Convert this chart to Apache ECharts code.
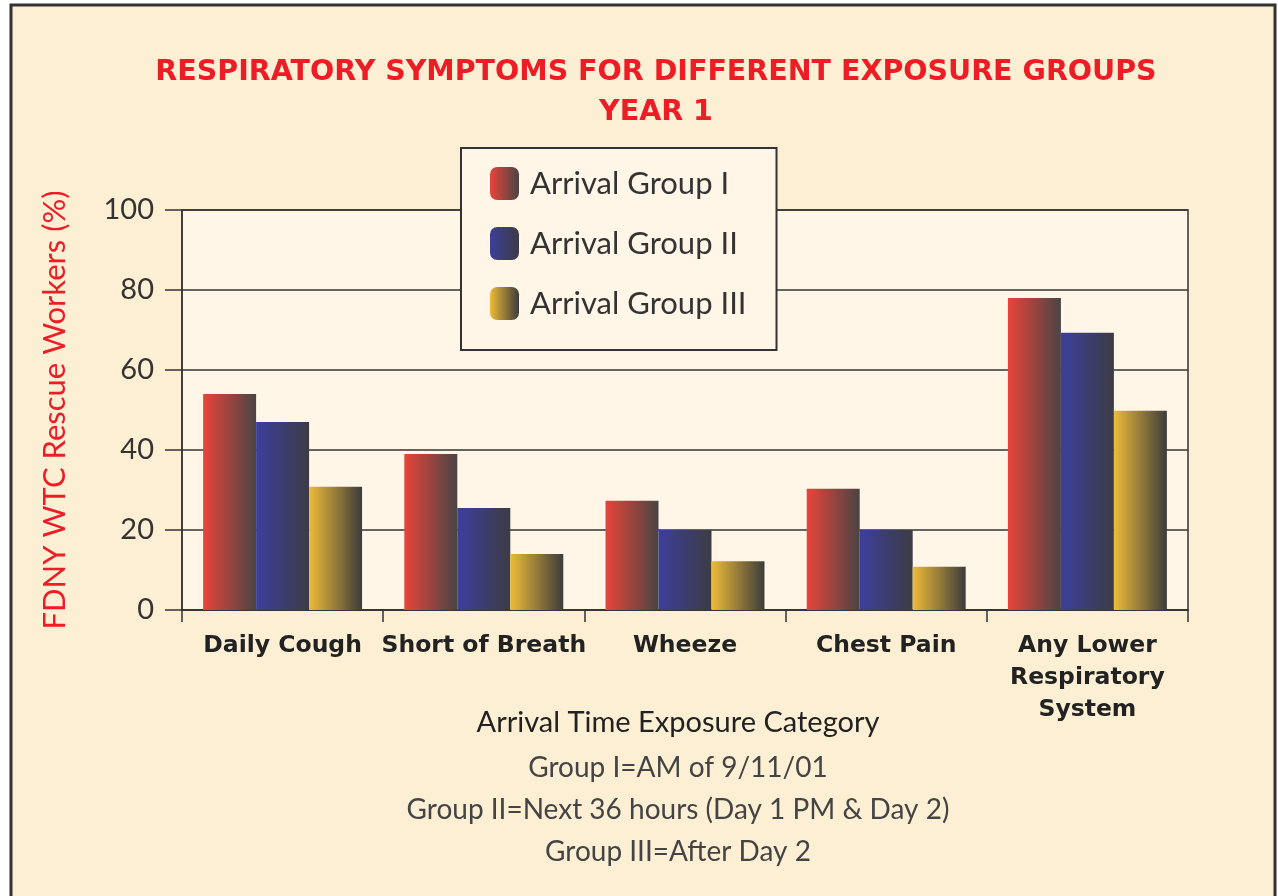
<!DOCTYPE html>
<html>
<head>
<meta charset="utf-8">
<script src="https://cdn.jsdelivr.net/npm/echarts@6/dist/echarts.min.js"></script>
<style>
  html, body { margin: 0; padding: 0; background: #fff; }
  #main { width: 1278px; height: 896px; }
</style>
</head>
<body>
<div id="main"></div>
<script>
var categories = ['Daily Cough', 'Short of Breath', 'Wheeze', 'Chest Pain', 'Any Lower\nRespiratory\nSystem'];
var groupNames = ['Arrival Group I', 'Arrival Group II', 'Arrival Group III'];
var group1 = [54, 39, 27.3, 30.3, 78];
var group2 = [47, 25.5, 20, 20, 69.3];
var group3 = [30.8, 14, 12.2, 10.8, 49.8];
var yTicks = [0, 20, 40, 60, 80, 100];
var footLines = ['Group I=AM of 9/11/01', 'Group II=Next 36 hours (Day 1 PM & Day 2)', 'Group III=After Day 2'];

var lightFont = 'Lato, "Noto Sans", sans-serif';
var boldFont = '"DejaVu Sans", Verdana, sans-serif';

function grad(c1, c2) {
    return new echarts.graphic.LinearGradient(0, 0, 1, 0, [
        { offset: 0, color: c1 },
        { offset: 1, color: c2 }
    ]);
}
var barColors = [
    grad('#E8443A', '#4A4444'),
    grad('#3C3F9C', '#3C3C44'),
    grad('#EEBB38', '#3C3C3C')
];

var dom = document.getElementById('main');
var myChart = echarts.init(dom);

var option = {
    animation: false,
    graphic: [{
        type: 'rect',
        z: -10,
        silent: true,
        shape: { x: 11, y: 5, width: 1264, height: 900 },
        style: { fill: '#FDEFD3', stroke: '#333', lineWidth: 3 }
    }, {
        type: 'group',
        x: 678,
        y: 708,
        children: footLines.map(function (t, i) {
            return {
                type: 'text',
                x: 0,
                y: 46 + i * 42,
                style: { text: t, fill: '#444', font: '28px ' + lightFont, align: 'center' }
            };
        }).concat([{
            type: 'text',
            x: 0,
            y: 0,
            style: { text: 'Arrival Time Exposure Category', fill: '#222', font: '29px ' + lightFont, align: 'center' }
        }])
    }],
    title: {
        text: 'RESPIRATORY SYMPTOMS FOR DIFFERENT EXPOSURE GROUPS\nYEAR 1',
        left: 651,
        textAlign: 'center',
        top: 48,
        textStyle: {
            color: '#EE1C25',
            fontFamily: boldFont,
            fontWeight: 'bold',
            fontSize: 28.5,
            lineHeight: 40
        }
    },
    legend: {
        data: groupNames,
        orient: 'vertical',
        left: 461,
        top: 148,
        padding: [19, 30, 30, 29],
        itemWidth: 29,
        itemHeight: 33,
        itemGap: 27,
        backgroundColor: '#FFF6E7',
        borderColor: '#333',
        borderWidth: 2,
        textStyle: { color: '#333', fontSize: 31, fontFamily: lightFont, padding: [0, 0, 0, 6] }
    },
    grid: {
        left: 182,
        right: 90,
        top: 210,
        bottom: 286,
        show: true,
        backgroundColor: '#FFF6E7',
        borderColor: '#333',
        borderWidth: 1.5
    },
    xAxis: {
        type: 'category',
        data: categories,
        axisLine: { lineStyle: { color: '#333', width: 1.5 } },
        axisTick: { show: true, length: 12, lineStyle: { color: '#333', width: 1.5 } },
        axisLabel: {
            color: '#222',
            fontFamily: boldFont,
            fontWeight: 'bold',
            fontSize: 23.5,
            lineHeight: 32,
            margin: 20,
            interval: 0
        }
    },
    yAxis: {
        type: 'value',
        min: 0,
        max: 100,
        interval: 20,
        name: 'FDNY WTC Rescue Workers (%)',
        nameLocation: 'middle',
        nameGap: 112,
        nameTextStyle: { color: '#EE1C25', fontSize: 31, fontFamily: lightFont },
        axisLine: { show: true, lineStyle: { color: '#333', width: 1.5 } },
        axisTick: { show: true, length: 17, lineStyle: { color: '#333', width: 1.5 } },
        axisLabel: {
            color: '#333',
            fontSize: 29,
            fontFamily: lightFont,
            margin: 28,
            formatter: function (v) { return yTicks.indexOf(v) >= 0 ? String(v) : ''; }
        },
        splitLine: { show: true, lineStyle: { color: '#333', width: 1.5 } }
    },
    series: [group1, group2, group3].map(function (d, i) {
        return {
            name: groupNames[i],
            type: 'bar',
            data: d,
            barGap: '0%',
            barCategoryGap: '21%',
            itemStyle: { color: barColors[i] }
        };
    })
};

myChart.setOption(option);
window.onresize = function () {
    myChart.resize();
};
</script>
</body>
</html>
